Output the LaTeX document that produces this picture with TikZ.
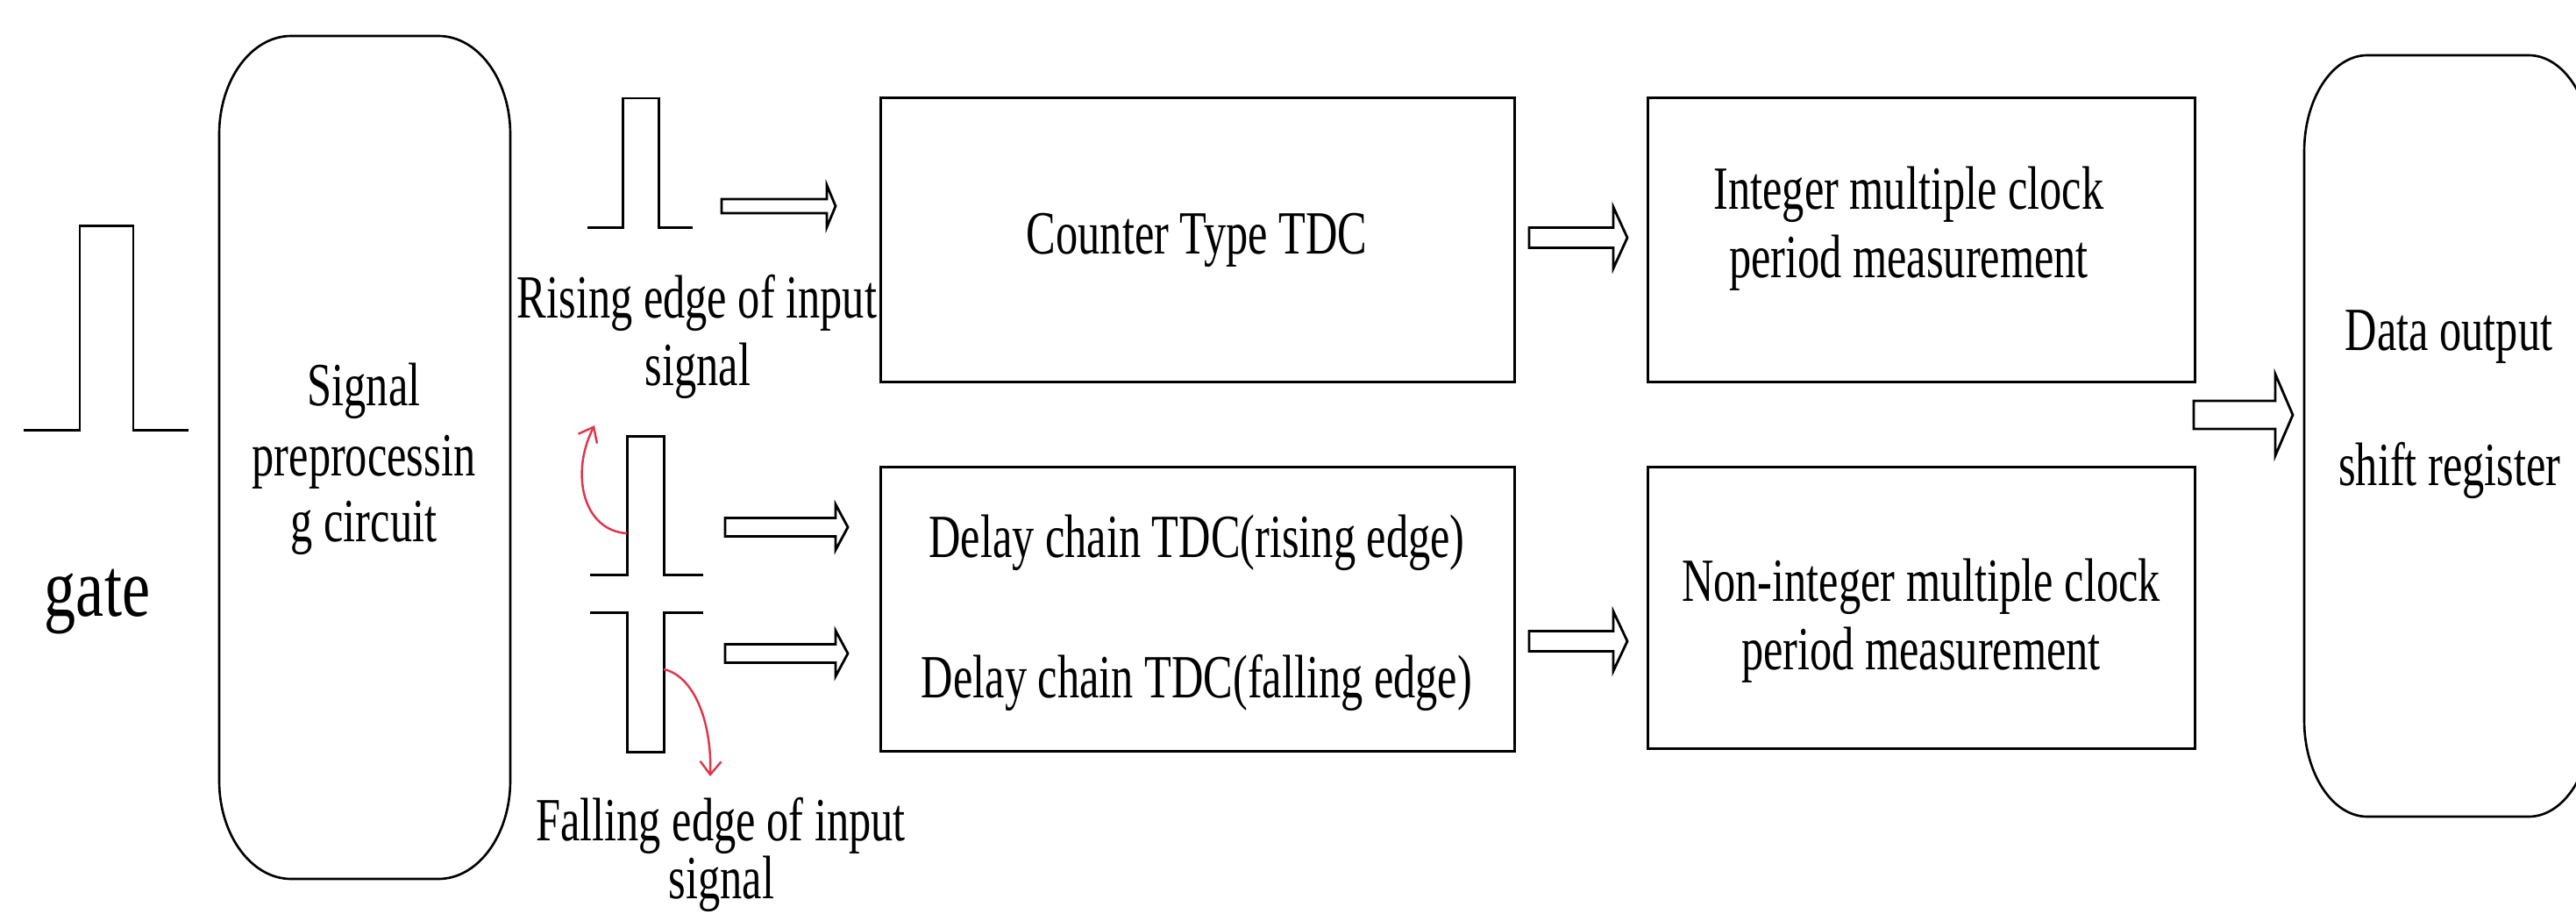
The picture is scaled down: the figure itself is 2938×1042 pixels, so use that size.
\documentclass[tikz,border=0pt]{standalone}
\usepackage{fontspec}
\setmainfont{Liberation Serif}
\newfontfamily\condfont[FakeStretch=0.72]{Liberation Serif}
\newfontfamily\gatefont[FakeStretch=0.76]{Liberation Serif}
\usetikzlibrary{arrows.meta}
\definecolor{redarr}{RGB}{222,55,75}
\tikzset{
  txt/.style={font=\condfont\fontsize{19.9pt}{24pt}\selectfont, inner sep=0pt, anchor=base},
  box/.style={draw, line width=0.85pt, inner sep=0pt},
  wave/.style={line width=0.85pt, line join=miter},
  outline/.style={line width=0.75pt},
  arrowline/.style={line width=0.8pt, line join=miter},
  redcurve/.style={draw=redarr, line width=0.7pt, -{Straight Barb[length=0.15cm,width=0.24cm]}},
  pics/harrow/.style n args={4}{code={%
    \draw[arrowline] (0,-#2) -- ({#1-#4},-#2) -- ({#1-#4},-#3) -- (#1,0) -- ({#1-#4},#3) -- ({#1-#4},#2) -- (0,#2) -- cycle;}}
}
\begin{document}
\begin{tikzpicture}[x=0.01cm,y=-0.01cm]
\useasboundingbox (0,0) rectangle (2938,1042);
\fill[white] (0,0) rectangle (2938,1042);
\clip (0,0) rectangle (2938,1042);

% gate pulse
\draw[wave] (27,490) -- (91,490) -- (91,257) -- (152,257) -- (152,490) -- (215,490);
\node[anchor=base, inner sep=0pt, font=\gatefont\fontsize{27pt}{30pt}\selectfont] (gate) at (111,702) {gate};

% signal preprocessing (rounded)
\draw[outline] (332,41) -- (500,41) arc[start angle=-90,end angle=0,x radius=82,y radius=112]
  -- (582,890) arc[start angle=0,end angle=90,x radius=82,y radius=112]
  -- (332,1002) arc[start angle=90,end angle=180,x radius=82,y radius=112]
  -- (250,153) arc[start angle=180,end angle=270,x radius=82,y radius=112] -- cycle;
\node[txt] (pre1) at (415,462) {Signal};
\node[txt] (pre2) at (415,542) {preprocessin};
\node[txt] (pre3) at (415,617) {g circuit};

% rising edge pulse (top)
\draw[wave] (670,259) -- (710,259) -- (710,112) -- (751,112) -- (751,259) -- (790,259);
\node[txt] (rise1) at (795,362) {Rising edge of input};
\node[txt] (rise2) at (796,439) {signal};

% middle pulses
\draw[wave] (673,655) -- (715,655) -- (715,497) -- (757,497) -- (757,655) -- (802,655);
\draw[wave] (673,698) -- (715,698) -- (715,857) -- (757,857) -- (757,698) -- (802,698);
\coordinate (r1s) at (715,608);
\coordinate (r1e) at (678,485);
\coordinate (r2s) at (757,763);
\coordinate (r2e) at (810,885);
\draw[redcurve] (r1s) .. controls (665,605) and (650,540) .. (r1e);
\draw[redcurve] (r2s) .. controls (790,770) and (812,820) .. (r2e);
\node[txt] (fall1) at (822,958) {Falling edge of input};
\node[txt] (fall2) at (823,1024) {signal};

% hollow arrows into TDC boxes
\pic at (823,235) {harrow={130}{8}{24}{10}};
\pic at (827,601) {harrow={140}{10.5}{26}{14}};
\pic at (827,745) {harrow={140}{10.5}{26}{14}};

% TDC boxes
\node[box, minimum width=7.22cm, minimum height=3.23cm] (counter) at (1366,273.5) {};
\node[txt] (countert) at (1365,289) {Counter Type TDC};
\node[box, minimum width=7.22cm, minimum height=3.23cm] (delay) at (1366,694.5) {};
\node[txt] (delay1) at (1365,635) {Delay chain TDC(rising edge)};
\node[txt] (delay2) at (1365,795) {Delay chain TDC(falling edge)};

% arrows to measurement boxes
\pic at (1744,271) {harrow={112}{11.5}{35}{16}};
\pic at (1744,731) {harrow={112}{11.5}{34}{16}};

% measurement boxes
\node[box, minimum width=6.23cm, minimum height=3.23cm] (integer) at (2191.5,273.5) {};
\node[txt] (int1) at (2177,238) {Integer multiple clock};
\node[txt] (int2) at (2177,316) {period measurement};
\node[box, minimum width=6.23cm, minimum height=3.20cm] (nonint) at (2191.5,693) {};
\node[txt] (non1) at (2191,685) {Non-integer multiple clock};
\node[txt] (non2) at (2191,763) {period measurement};

% arrow to data output
\pic at (2502,473) {harrow={113}{16}{46.5}{20}};

% data output (rounded, clipped at right)
\draw[outline] (2700,63) -- (2884,63) arc[start angle=-90,end angle=0,x radius=72,y radius=110]
  -- (2956,821) arc[start angle=0,end angle=90,x radius=72,y radius=110]
  -- (2700,931) arc[start angle=90,end angle=180,x radius=72,y radius=110]
  -- (2628,173) arc[start angle=180,end angle=270,x radius=72,y radius=110] -- cycle;
\node[txt] (data1) at (2793,399) {Data output};
\node[txt] (data2) at (2794,553) {shift register};
\end{tikzpicture}
\end{document}
